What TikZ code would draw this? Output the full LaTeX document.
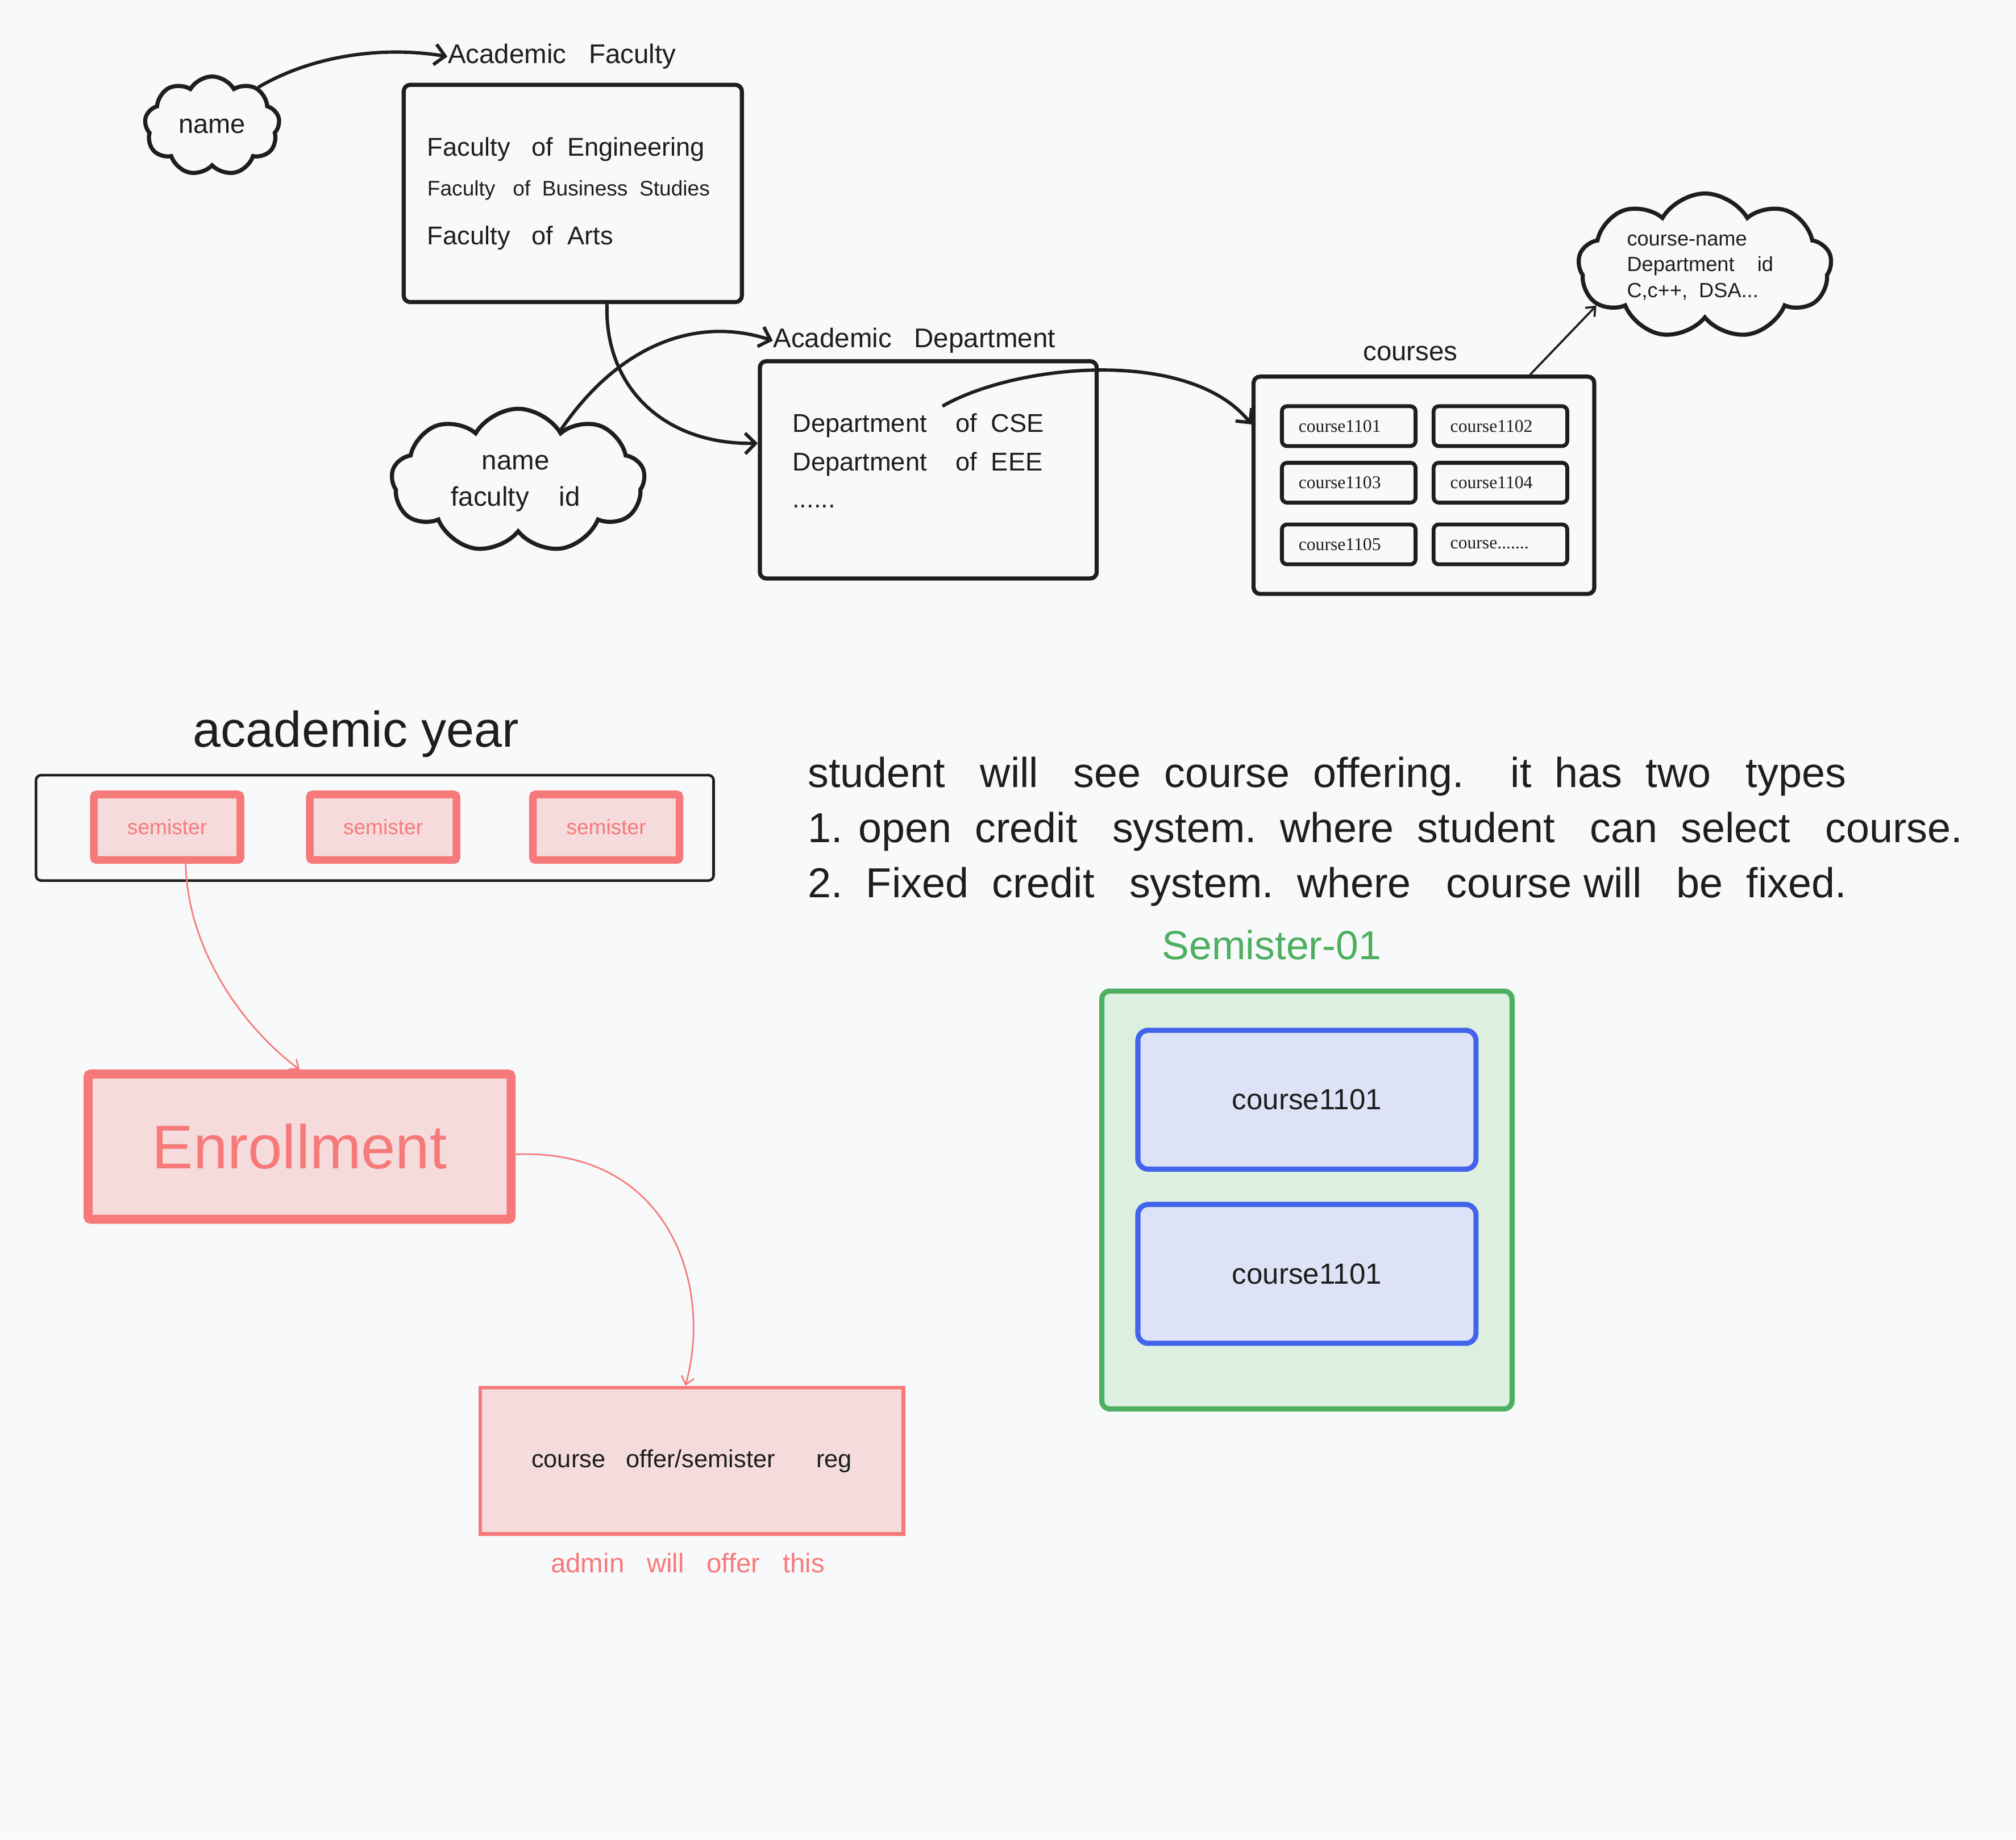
\documentclass[tikz,border=0pt]{standalone}
\usepackage{fontspec}
\setmainfont{Liberation Sans}
\newfontfamily\seriffam{Liberation Serif}
\usetikzlibrary{shapes.symbols,arrows.meta,calc}
\definecolor{ink}{HTML}{1E1E1E}
\definecolor{bg}{HTML}{F8F9FB}
\definecolor{pinkS}{HTML}{F77A7A}
\definecolor{pinkF}{HTML}{F5DBDC}
\definecolor{greenS}{HTML}{4DAF60}
\definecolor{greenF}{HTML}{DDF0E0}
\definecolor{blueS}{HTML}{4263EB}
\definecolor{blueF}{HTML}{DEE2F6}
\newcommand{\fz}[2]{\fontsize{#1pt}{#2pt}\selectfont}
\begin{document}
\begin{tikzpicture}[x=0.5pt,y=-0.5pt,
  box/.style={draw=ink, line width=1.6pt, rounded corners=2.5pt, fill=bg, inner sep=0pt},
  cbox/.style={draw=ink, line width=1.5pt, rounded corners=2pt, fill=bg, minimum width=52pt, minimum height=15.5pt, text width=39pt, inner xsep=6.5pt, inner ysep=0pt, align=left, text=ink, font=\seriffam\fz{7}{8}},
  cld/.style={cloud, cloud puffs=9, cloud puff arc=120, draw=ink, line width=1.6pt, fill=bg, inner sep=0pt},
  lbl/.style={text=ink, inner sep=0pt},
  conn/.style={draw=ink, line width=1.3pt, -{Straight Barb[length=4pt,width=8pt,line width=1.3pt]}},
  thin/.style={draw=ink, line width=0.8pt, -{Straight Barb[length=3pt,width=5pt,line width=0.8pt]}},
  pconn/.style={draw=pinkS, line width=0.6pt, -{Straight Barb[length=3pt,width=5pt,line width=0.6pt]}},
  sem/.style={draw=pinkS, fill=pinkF, line width=3pt, rounded corners=1pt, minimum width=57pt, minimum height=25.5pt, inner sep=0pt, text=pinkS, font=\fz{8.2}{10}},
  bluebox/.style={draw=blueS, fill=blueF, line width=2pt, rounded corners=4pt, minimum width=131.5pt, minimum height=54pt, inner sep=0pt, text=ink, font=\fz{11.3}{13}},
]
% background and bounding box
\fill[bg] (0,0) rectangle (1568,1431);
\useasboundingbox (0,0) rectangle (1568,1431);

% ---------- top part ----------
\node[cld, minimum width=52.5pt, minimum height=38.5pt] (c1) at (165,98) {};
\node[lbl, font=\fz{10.4}{12}] (c1t) at (c1.center) {name};
\node[lbl, anchor=west, font=\fz{10.5}{12}] (afT) at (348,44) {Academic\ \ \ Faculty};
\node[box, minimum width=131.5pt, minimum height=84.5pt] (fac) at (445.5,150.5) {};
\node[lbl, anchor=west, font=\fz{10}{12}] (f1) at (332,116) {Faculty\ \ \ of\ \ Engineering};
\node[lbl, anchor=west, font=\fz{8.2}{10}] (f2) at (332,148) {Faculty\ \ \ of\ \ Business\ \ Studies};
\node[lbl, anchor=west, font=\fz{10}{12}] (f3) at (332,185) {Faculty\ \ \ of\ \ Arts};

\node[cld, minimum width=98.5pt, minimum height=56pt] (c2) at (403,374) {};
\node[lbl, align=center, font=\fz{10.5}{14}] (c2t) at (401,376) {name\\faculty\ \ \ \ id};
\node[lbl, anchor=west, font=\fz{10.5}{12}] (adT) at (601,265) {Academic\ \ \ Department};
\node[box, minimum width=131pt, minimum height=84.5pt] (dep) at (722,365.5) {};
\node[lbl, anchor=west, font=\fz{10}{12}] (d1) at (616,331) {Department\ \ \ \ of\ \ CSE};
\node[lbl, anchor=west, font=\fz{10}{12}] (d2) at (616,361) {Department\ \ \ \ of\ \ EEE};
\node[lbl, anchor=west, font=\fz{10}{12}] (d3) at (616,394) {......};
\coordinate (d0) at (733,316);

\node[lbl, font=\fz{10.5}{12}] (crT) at (1097,275) {courses};
\node[box, minimum width=132.5pt, minimum height=84.5pt] (crs) at (1107.5,377.5) {};
\node[cbox] (k1) at (1049,331.5) {course1101};
\node[cbox] (k2) at (1167,331.5) {course1102};
\node[cbox] (k3) at (1049,375.5) {course1103};
\node[cbox] (k4) at (1167,375.5) {course1104};
\node[cbox] (k5) at (1049,423.5) {course1105};
\node[cbox] (k6) at (1167,423.5) {course.......};

\node[cld, minimum width=98.5pt, minimum height=56.5pt] (c3) at (1326,207) {};
\node[lbl, anchor=west, align=left, font=\fz{8}{10}] (c3t) at (1265,208) {course-name\\Department\ \ \ \ id\\C,c++,\ \ DSA...};

% top connectors
\draw[conn] (c1.40) .. controls (245,42) and (300,36) .. (afT.west);
\draw[conn] ($(fac.south west)!0.6!(fac.south east)$) .. controls (470,300) and (515,346) .. ($(dep.north west)!0.38!(dep.south west)$);
\draw[conn] (c2.50) .. controls (480,270) and (540,245) .. (adT.west);
\draw[conn] (d0) .. controls (790,283) and (925,270) .. ($(crs.north west)!0.225!(crs.south west)$);
\draw[thin] ($(crs.north west)!0.808!(crs.north east)$) -- (c3.200);

% ---------- academic year ----------
\node[lbl, font=\fz{19.5}{22}] (ayT) at (277,571) {academic year};
\node[draw=ink, line width=1pt, rounded corners=2pt, minimum width=263.5pt, minimum height=41pt, inner sep=0pt] (ay) at (291.5,644) {};
\node[sem] (s1) at (130,643.5) {semister};
\node[sem] (s2) at (298,643.5) {semister};
\node[sem] (s3) at (471.5,643.5) {semister};

\node[draw=pinkS, fill=pinkF, line width=3.5pt, rounded corners=1pt, minimum width=164.5pt, minimum height=56.5pt, inner sep=0pt, text=pinkS, font=\fz{24}{28}] (enr) at (233,892) {Enrollment};
\node[draw=pinkS, fill=pinkF, line width=1.5pt, minimum width=164.5pt, minimum height=57pt, inner sep=0pt, text=ink, font=\fz{9.6}{12}] (off) at (538,1136.5) {course\ \ \ offer/semister\ \ \ \ \ \ reg};
\node[lbl, text=pinkS, font=\fz{10.5}{12}] (adm) at (535,1216) {admin\ \ \ will\ \ \ offer\ \ \ this};

\draw[pconn] ($(s1.south west)!0.62!(s1.south east)$) .. controls (146,740) and (190,800) .. (enr.north);
\draw[pconn] ($(enr.north east)!0.55!(enr.south east)$) .. controls (520,893) and (555,1000) .. ($(off.north west)!0.485!(off.north east)$);

% ---------- paragraph ----------
\node[lbl, anchor=west, font=\fz{16.3}{20}] (p1) at (628,604) {student\ \ \ will\ \ \ see\ \ course\ \ offering.\ \ \ \ it\ \ has\ \ two\ \ \ types};
\node[lbl, anchor=west, font=\fz{16.3}{20}] (p2) at (628,647) {1. open\ \ credit\ \ \ system.\ \ where\ \ student\ \ \ can\ \ select\ \ \ course.};
\node[lbl, anchor=west, font=\fz{16.3}{20}] (p3) at (628,690) {2.\ \ Fixed\ \ credit\ \ \ system.\ \ where\ \ \ course\ will\ \ \ be\ \ fixed.};

% ---------- semister-01 ----------
\node[lbl, text=greenS, font=\fz{15.8}{18}] (smT) at (989,735) {Semister-01};
\node[draw=greenS, fill=greenF, line width=2pt, rounded corners=3pt, minimum width=159.5pt, minimum height=162.5pt, inner sep=0pt] (grn) at (1016.5,933.5) {};
\node[bluebox] (b1) at (1016.5,855.5) {course1101};
\node[bluebox] (b2) at (1016.5,991) {course1101};
\end{tikzpicture}
\end{document}
